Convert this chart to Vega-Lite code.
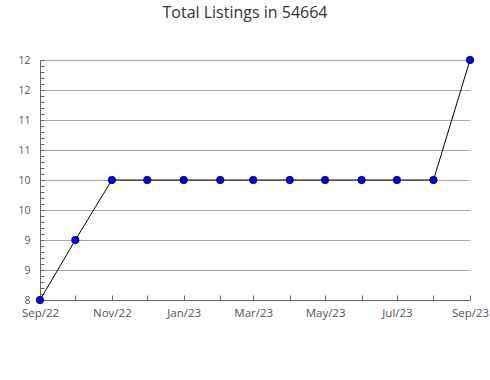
{
  "$schema": "https://vega.github.io/schema/vega-lite/v6.json",
  "width": 430,
  "height": 240,
  "autosize": {"type": "none"},
  "padding": {"left": 40, "top": 60, "right": 20, "bottom": 80},
  "background": "white",
  "title": {
    "text": "Total Listings in 54664",
    "font": "Open Sans",
    "fontSize": 16,
    "fontWeight": "normal",
    "color": "#333333",
    "anchor": "middle",
    "dx": -10,
    "offset": 34
  },
  "config": {
    "view": {"stroke": null},
    "axis": {"labelFont": "Open Sans", "labelFontSize": 11.5, "labelColor": "#555555"}
  },
  "data": {
    "values": [
      {"date": "2022-09-01", "listings": 8},
      {"date": "2022-10-01", "listings": 9},
      {"date": "2022-11-01", "listings": 10},
      {"date": "2022-12-01", "listings": 10},
      {"date": "2023-01-01", "listings": 10},
      {"date": "2023-02-01", "listings": 10},
      {"date": "2023-03-01", "listings": 10},
      {"date": "2023-04-01", "listings": 10},
      {"date": "2023-05-01", "listings": 10},
      {"date": "2023-06-01", "listings": 10},
      {"date": "2023-07-01", "listings": 10},
      {"date": "2023-08-01", "listings": 10},
      {"date": "2023-09-01", "listings": 12}
    ]
  },
  "encoding": {
    "x": {
      "field": "date",
      "type": "temporal",
      "scale": {"type": "utc", "nice": false},
      "axis": {
        "title": null,
        "grid": false,
        "domainColor": "#666666",
        "tickColor": "#666666",
        "tickSize": -5,
        "tickCount": {"interval": "month", "step": 1},
        "labelExpr": "utcmonth(datum.value) % 2 == 0 ? utcFormat(datum.value, '%b/%y') : ''",
        "labelPadding": 12,
        "labelOverlap": false,
        "labelFlush": false
      }
    },
    "y": {
      "field": "listings",
      "type": "quantitative",
      "scale": {"domain": [8, 12], "nice": false, "zero": false},
      "axis": {
        "title": null,
        "values": [8, 8.1, 8.2, 8.3, 8.4, 8.5, 8.6, 8.7, 8.8, 8.9, 9, 9.1, 9.2, 9.3, 9.4, 9.5, 9.6, 9.7, 9.8, 9.9, 10, 10.1, 10.2, 10.3, 10.4, 10.5, 10.6, 10.7, 10.8, 10.9, 11, 11.1, 11.2, 11.3, 11.4, 11.5, 11.6, 11.7, 11.8, 11.9, 12],
        "labelExpr": "abs(datum.value * 2 - round(datum.value * 2)) < 0.01 ? format(datum.value, 'd') : ''",
        "labelFontSize": 10.5,
        "labelColor": "#555555",
        "grid": true,
        "gridColor": "#aaaaaa",
        "gridOpacity": {"condition": {"test": "abs(datum.value * 2 - round(datum.value * 2)) < 0.01 && datum.value > 8.01", "value": 1}, "value": 0},
        "domainColor": "#666666",
        "tickColor": "#666666",
        "tickSize": -4,
        "labelPadding": 14,
        "labelOverlap": false,
        "labelFlush": false
      }
    }
  },
  "layer": [
    {"mark": {"type": "line", "color": "black", "strokeWidth": 1}},
    {"mark": {"type": "point", "filled": true, "fill": "#0000ff", "stroke": "#000033", "strokeWidth": 0.8, "size": 55, "opacity": 1}}
  ]
}
